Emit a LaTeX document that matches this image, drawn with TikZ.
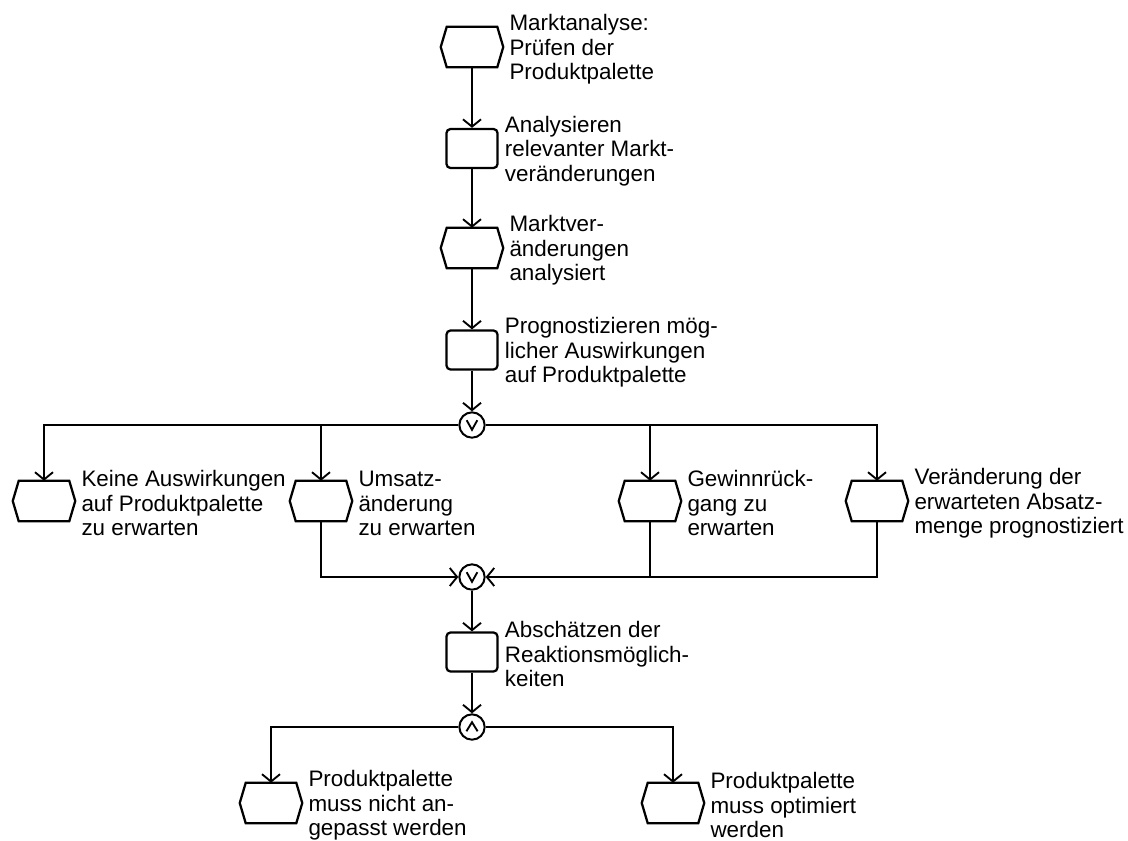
\documentclass[tikz,border=0pt]{standalone}
\usepackage{fontspec}
\setmainfont{Liberation Sans}
\usetikzlibrary{arrows.meta}
\begin{document}
\begin{tikzpicture}[x=0.75pt,y=-0.75pt,
  flow/.style={line width=1.4pt, line join=miter},
  conn/.style={flow, -{Straight Barb[length=5.5pt,width=13.5pt]}},
  outline/.style={line width=1.7pt, line join=miter},
  eventbox/.style={minimum width=46.5pt, minimum height=30pt, inner sep=0pt},
  funcbox/.style={draw, line width=1.7pt, rounded corners=3pt, minimum width=38.25pt, minimum height=29.25pt, inner sep=0pt},
  joint/.style={draw, circle, line width=1.5pt, minimum size=19pt, inner sep=0pt},
  caption/.style={anchor=west, align=left, inner sep=0pt, font=\fontsize{16.8pt}{18.4pt}\selectfont, xshift=4.5pt, yshift=-1.8pt},
]
\useasboundingbox (0,0) rectangle (1128,840);

% events, functions and connectors
\node[eventbox] (ev1) at (472,47) {};
\node[funcbox]  (fn1) at (472,148.5) {};
\node[eventbox] (ev2) at (472,248) {};
\node[funcbox]  (fn2) at (472,350) {};
\node[joint]    (or1) at (472,425) {};
\node[eventbox] (ev3) at (44,501) {};
\node[eventbox] (ev4) at (321,501) {};
\node[eventbox] (ev5) at (650,501) {};
\node[eventbox] (ev6) at (877,501) {};
\node[joint]    (or2) at (472,577) {};
\node[funcbox]  (fn3) at (472,652) {};
\node[joint]    (and1) at (472,727) {};
\node[eventbox] (ev7) at (271,803) {};
\node[eventbox] (ev8) at (673,803) {};

% hexagonal outlines of the events
\foreach \n in {ev1,ev2,ev3,ev4,ev5,ev6,ev7,ev8}
  \draw[outline] (\n.west) -- ([xshift=4.5pt]\n.north west) -- ([xshift=-4.5pt]\n.north east)
    -- (\n.east) -- ([xshift=-4.5pt]\n.south east) -- ([xshift=4.5pt]\n.south west) -- cycle;

% operator signs: OR twice, AND once
\foreach \n in {or1,or2}
  \draw[flow] ([xshift=-4pt,yshift=3.6pt]\n.center) -- ([yshift=-3.6pt]\n.center) -- ([xshift=4pt,yshift=3.6pt]\n.center);
\draw[flow] ([xshift=-4.2pt,yshift=-3.2pt]and1.center) -- ([yshift=3.6pt]and1.center) -- ([xshift=4.2pt,yshift=-3.2pt]and1.center);

% control flow
\draw[conn] (ev1.south) -- (fn1.north);
\draw[conn] (fn1.south) -- (ev2.north);
\draw[conn] (ev2.south) -- (fn2.north);
\draw[conn] (fn2.south) -- (or1.north);
\draw[conn] (or1.west) -| (ev3.north);
\draw[conn] (or1.west) -| (ev4.north);
\draw[conn] (or1.east) -| (ev5.north);
\draw[conn] (or1.east) -| (ev6.north);
\draw[conn] (ev4.south) |- (or2.west);
\draw[conn] (ev6.south) |- (or2.east);
\draw[flow] (ev5.south) -- (ev5.south |- or2.center);
\draw[conn] (or2.south) -- (fn3.north);
\draw[conn] (fn3.south) -- (and1.north);
\draw[conn] (and1.west) -| (ev7.north);
\draw[conn] (and1.east) -| (ev8.north);

% labels
\node[caption] (tx1) at (ev1.east) {Marktanalyse:\\Prüfen der\\Produktpalette};
\node[caption] (tx2) at (fn1.east) {Analysieren\\relevanter Markt-\\veränderungen};
\node[caption] (tx3) at (ev2.east) {Marktver-\\änderungen\\analysiert};
\node[caption] (tx4) at (fn2.east) {Prognostizieren mög-\\licher Auswirkungen\\auf Produktpalette};
\node[caption] (tx5) at (ev3.east) {Keine Auswirkungen\\auf Produktpalette\\zu erwarten};
\node[caption] (tx6) at (ev4.east) {Umsatz-\\änderung\\zu erwarten};
\node[caption] (tx7) at (ev5.east) {Gewinnrück-\\gang zu\\erwarten};
\node[caption] (tx8) at (ev6.east) {Veränderung der\\erwarteten Absatz-\\menge prognostiziert};
\node[caption] (tx9) at (fn3.east) {Abschätzen der\\Reaktionsmöglich-\\keiten};
\node[caption] (tx10) at (ev7.east) {Produktpalette\\muss nicht an-\\gepasst werden};
\node[caption] (tx11) at (ev8.east) {Produktpalette\\muss optimiert\\werden};
\end{tikzpicture}
\end{document}
